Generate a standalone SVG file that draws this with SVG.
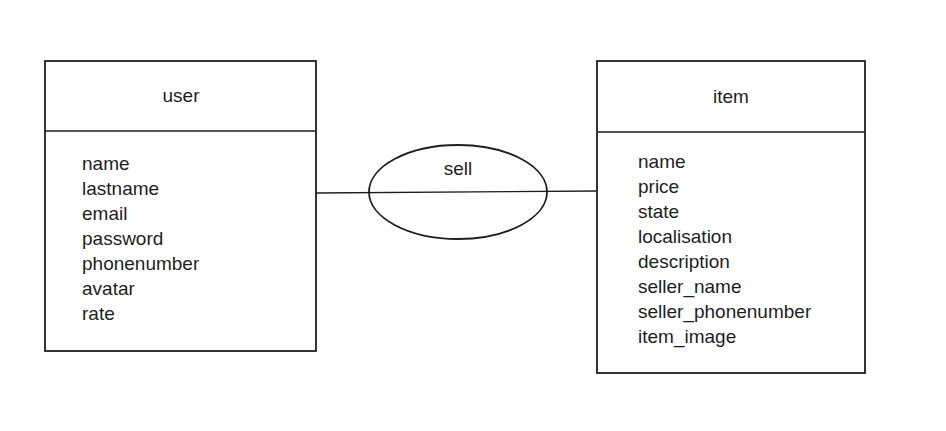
<svg xmlns="http://www.w3.org/2000/svg" width="946" height="431" viewBox="0 0 946 431">
<style>
.box{fill:none;stroke:#1e1e1e;stroke-width:1.8}
.ln{fill:none;stroke:#1e1e1e;stroke-width:1.4}
text{font-family:"Liberation Sans",Arial,sans-serif;font-size:19px;fill:#1e1e1e}
.t{text-anchor:middle}
</style>
<rect width="946" height="431" fill="#ffffff"/>
<g id="connectors">
<path class="ln" d="M316 193 L597 191"/>
</g>
<g id="user">
<rect class="box" x="45" y="61" width="271" height="290"/>
<line class="ln" x1="45" y1="131" x2="316" y2="131"/>
<text class="t" x="181" y="102">user</text>
<text x="82" y="170">name</text>
<text x="82" y="195">lastname</text>
<text x="82" y="220">email</text>
<text x="82" y="245">password</text>
<text x="82" y="270">phonenumber</text>
<text x="82" y="295">avatar</text>
<text x="82" y="320">rate</text>
</g>
<g id="sell">
<ellipse class="box" cx="458" cy="192" rx="89" ry="47"/>
<text class="t" x="458" y="175">sell</text>
</g>
<g id="item">
<rect class="box" x="597" y="61" width="268" height="312"/>
<line class="ln" x1="597" y1="132" x2="865" y2="132"/>
<text class="t" x="731" y="103">item</text>
<text x="638" y="168">name</text>
<text x="638" y="193">price</text>
<text x="638" y="218">state</text>
<text x="638" y="243">localisation</text>
<text x="638" y="268">description</text>
<text x="638" y="293">seller_name</text>
<text x="638" y="318">seller_phonenumber</text>
<text x="638" y="343">item_image</text>
</g>
</svg>
